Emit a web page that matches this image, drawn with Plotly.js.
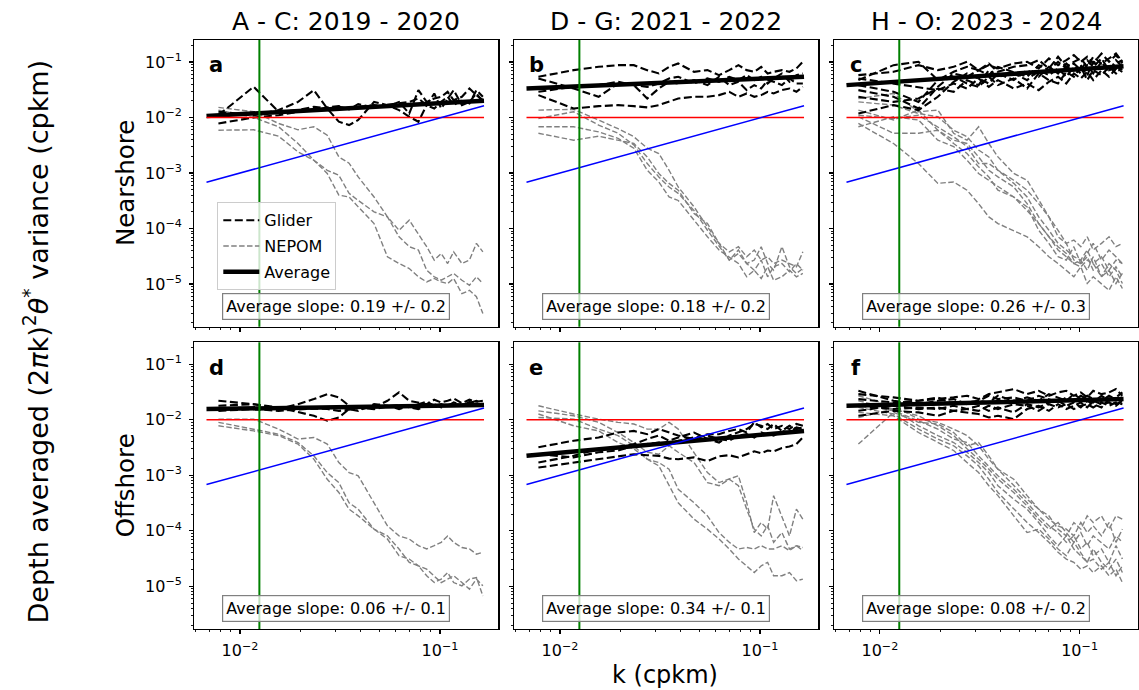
<!DOCTYPE html>
<html>
<head>
<meta charset="utf-8">
<script src="https://cdn.plot.ly/plotly-3.0.1.min.js"></script>
<style>
html,body{margin:0;padding:0;background:#ffffff;}
#chart{width:1139px;height:690px;}
</style>
</head>
<body>
<div id="chart"></div>
<script>
// ---------------- data ----------------
const col_titles = ['A - C: 2019 - 2020', 'D - G: 2021 - 2022', 'H - O: 2023 - 2024'];
const row_titles = ['Nearshore', 'Offshore'];
const panel_letters = ['a', 'b', 'c', 'd', 'e', 'f'];
const slope_labels = ['Average slope: 0.19 +/- 0.2', 'Average slope: 0.18 +/- 0.2', 'Average slope: 0.26 +/- 0.3',
                      'Average slope: 0.06 +/- 0.1', 'Average slope: 0.34 +/- 0.1', 'Average slope: 0.08 +/- 0.2'];
const y_label = 'Depth averaged (2<i>π</i>k)<sup>2</sup><i>θ</i><sup>*</sup> variance (cpkm)';
const x_label = 'k (cpkm)';
const y_tick_vals = [1e-5, 1e-4, 1e-3, 1e-2, 1e-1];
const y_tick_text = ['10<sup>−5</sup>', '10<sup>−4</sup>', '10<sup>−3</sup>', '10<sup>−2</sup>', '10<sup>−1</sup>'];
const x_tick_vals = [0.01, 0.1];
const x_tick_text = ['10<sup>−2</sup>', '10<sup>−1</sup>'];

// wavenumber grid of the spectra (cpkm)
const k = [0.0078, 0.0117, 0.0156, 0.0195, 0.0234, 0.0273, 0.0312, 0.0351, 0.039, 0.0468, 0.0546, 0.0624,
           0.0702, 0.078, 0.0858, 0.0936, 0.1014, 0.1092, 0.117, 0.1287, 0.1404, 0.1521, 0.1638];
// reference lines
const k_ref = [0.0068, 0.166];
const red_level = [0.01, 0.01];
const blue_ref = [0.00068, 0.0163];
const green_k = 0.0125;

// panel a
const a_glider_1 = [0.011, 0.0357, 0.0127, 0.0136, 0.0156, 0.0145, 0.0156, 0.0145, 0.0156, 0.0167, 0.0156, 0.0191, 0.0118, 0.0311, 0.0191, 0.022, 0.0236, 0.029, 0.0205, 0.0236, 0.0333, 0.0253, 0.0205];
const a_glider_2 = [0.0127, 0.011, 0.0136, 0.0191, 0.0311, 0.0145, 0.0084, 0.0073, 0.009, 0.0191, 0.0167, 0.0136, 0.0103, 0.0084, 0.0167, 0.0271, 0.0145, 0.022, 0.0311, 0.0167, 0.0191, 0.0271, 0.0191];
const a_glider_3 = [0.0078, 0.01, 0.011, 0.0127, 0.0136, 0.0152, 0.016, 0.014, 0.0174, 0.0152, 0.0169, 0.0183, 0.0191, 0.022, 0.0167, 0.0145, 0.0191, 0.0236, 0.0167, 0.0205, 0.0179, 0.0311, 0.0236];
const a_nepom_1 = [0.0152, 0.0127, 0.0078, 0.006, 0.0068, 0.0048, 0.00195, 0.0015, 8.5e-4, 3.7e-4, 1.62e-4, 9.3e-5, 1.41e-4, 8.1e-5, 4.7e-5, 2.7e-5, 3.55e-5, 2.34e-5, 3.8e-5, 2.34e-5, 2.7e-5, 5.4e-5, 3.8e-5];
const a_nepom_2 = [0.0136, 0.01, 0.0068, 0.0034, 0.0017, 0.00112, 9.1e-4, 4.3e-4, 3.2e-4, 2.0e-4, 1.62e-4, 7.1e-5, 4.7e-5, 4.1e-5, 1.77e-5, 1.35e-5, 1.17e-5, 1.35e-5, 1.55e-5, 1.17e-5, 9.5e-6, 1.35e-5, 1.02e-5];
const a_nepom_3 = [0.0059, 0.006, 0.0046, 0.0024, 0.0017, 9.8e-4, 4.0e-4, 3.7e-4, 2.45e-4, 1.23e-4, 3.1e-5, 2.34e-5, 1.9e-5, 1.35e-5, 1.09e-5, 1.26e-5, 1.09e-5, 1.02e-5, 1.26e-5, 6.7e-6, 7.7e-6, 5.9e-6, 2.95e-6];
const a_average = [0.0106, 0.0200];

// panel b
const b_glider_1 = [0.0541, 0.0713, 0.0818, 0.0877, 0.0877, 0.0713, 0.0621, 0.0818, 0.094, 0.0665, 0.0713, 0.0579, 0.0713, 0.0877, 0.0713, 0.0665, 0.0818, 0.0621, 0.0665, 0.0713, 0.0665, 0.0764, 0.1007];
const b_glider_2 = [0.0253, 0.0145, 0.016, 0.0167, 0.016, 0.0152, 0.0167, 0.0191, 0.022, 0.0236, 0.0236, 0.0253, 0.029, 0.0236, 0.0271, 0.0236, 0.0253, 0.029, 0.0271, 0.0311, 0.0333, 0.029, 0.0357];
const b_glider_3 = [0.0505, 0.0333, 0.0236, 0.041, 0.0383, 0.022, 0.0333, 0.044, 0.041, 0.0471, 0.0383, 0.0541, 0.0383, 0.044, 0.0311, 0.0383, 0.0333, 0.0471, 0.044, 0.0383, 0.0505, 0.041, 0.041];
const b_glider_4 = [0.029, 0.0357, 0.0383, 0.044, 0.0383, 0.0357, 0.041, 0.0505, 0.0541, 0.041, 0.0505, 0.044, 0.0541, 0.0471, 0.0579, 0.0471, 0.0541, 0.041, 0.0505, 0.0621, 0.044, 0.0579, 0.0621];
const b_nepom_1 = [0.0136, 0.014, 0.009, 0.0063, 0.0045, 0.0028, 0.00224, 0.00112, 5.6e-4, 2.45e-4, 1.07e-4, 5.4e-5, 3.8e-5, 4.7e-5, 3.1e-5, 4.1e-5, 2.7e-5, 3.1e-5, 2.34e-5, 2.7e-5, 2.34e-5, 2.04e-5, 3.8e-5];
const b_nepom_2 = [0.0096, 0.0127, 0.0073, 0.0052, 0.0032, 0.00148, 8.5e-4, 5.6e-4, 4.3e-4, 2.1e-4, 9.3e-5, 4.7e-5, 2.7e-5, 3.55e-5, 2.34e-5, 1.77e-5, 2.7e-5, 1.35e-5, 2.04e-5, 2.34e-5, 1.66e-5, 2.34e-5, 1.77e-5];
const b_nepom_3 = [0.0068, 0.0068, 0.0055, 0.0042, 0.0028, 0.00112, 6.9e-4, 3.7e-4, 3.2e-4, 1.41e-4, 7.1e-5, 4.1e-5, 3.1e-5, 2.34e-5, 1.35e-5, 1.77e-5, 1.26e-5, 2.04e-5, 1.17e-5, 1.35e-5, 1.77e-5, 1.35e-5, 1.55e-5];
const b_nepom_4 = [0.0052, 0.0039, 0.0046, 0.0039, 0.0034, 0.00195, 9.8e-4, 6.5e-4, 4.9e-4, 1.86e-4, 1.23e-4, 5.4e-5, 2.7e-5, 4.1e-5, 2.34e-5, 2.7e-5, 4.7e-5, 2.34e-5, 1.77e-5, 4.7e-5, 2.04e-5, 1.55e-5, 1.9e-5];
const b_average = [0.0333, 0.054];

// panel c
const c_glider_1 = [0.0471, 0.0877, 0.1007, 0.0471, 0.0665, 0.0818, 0.0713, 0.0877, 0.0764, 0.094, 0.1007, 0.0764, 0.1156, 0.0877, 0.108, 0.133, 0.1007, 0.124, 0.094, 0.142, 0.1007, 0.133, 0.094];
const c_glider_2 = [0.0311, 0.0236, 0.0145, 0.0357, 0.0621, 0.0541, 0.0713, 0.0579, 0.0818, 0.0665, 0.0541, 0.0877, 0.0713, 0.1007, 0.0764, 0.094, 0.0713, 0.108, 0.0818, 0.1156, 0.0713, 0.094, 0.108];
const c_glider_3 = [0.0118, 0.0167, 0.0136, 0.0236, 0.044, 0.0621, 0.0505, 0.041, 0.0621, 0.0471, 0.0713, 0.0541, 0.0818, 0.0621, 0.094, 0.0713, 0.0877, 0.0579, 0.1007, 0.0764, 0.0877, 0.0665, 0.0764];
const c_glider_4 = [0.0383, 0.029, 0.0191, 0.0471, 0.0541, 0.041, 0.0357, 0.0541, 0.0383, 0.0505, 0.0333, 0.0621, 0.0471, 0.041, 0.0665, 0.0541, 0.0818, 0.0471, 0.0713, 0.0579, 0.0818, 0.0621, 0.0877];
const c_glider_5 = [0.0579, 0.0665, 0.0877, 0.0713, 0.0818, 0.1007, 0.0713, 0.094, 0.0665, 0.0818, 0.0877, 0.108, 0.0764, 0.124, 0.0818, 0.1007, 0.1156, 0.0818, 0.124, 0.094, 0.1156, 0.142, 0.1007];
const c_glider_6 = [0.0505, 0.041, 0.0357, 0.0311, 0.041, 0.0333, 0.0505, 0.0357, 0.0471, 0.0333, 0.041, 0.0311, 0.044, 0.0541, 0.041, 0.0621, 0.0505, 0.0665, 0.0471, 0.0713, 0.0541, 0.0764, 0.0665];
const c_glider_7 = [0.0236, 0.0191, 0.022, 0.0333, 0.029, 0.0471, 0.0383, 0.0713, 0.0541, 0.0621, 0.0471, 0.0713, 0.0579, 0.0764, 0.0541, 0.0818, 0.0621, 0.0877, 0.0621, 0.1007, 0.0665, 0.108, 0.0818];
const c_nepom_1 = [0.022, 0.0271, 0.0127, 0.0136, 0.0052, 0.0039, 0.0068, 0.0034, 0.00195, 9.8e-4, 7.4e-4, 3.2e-4, 1.62e-4, 9.3e-5, 5.4e-5, 6.2e-5, 4.7e-5, 7.1e-5, 4.1e-5, 5.4e-5, 7.1e-5, 4.7e-5, 5.4e-5];
const c_nepom_2 = [0.0191, 0.0167, 0.0118, 0.0103, 0.0059, 0.0045, 0.0026, 0.00195, 0.00112, 6.5e-4, 3.7e-4, 1.62e-4, 9.3e-5, 5.4e-5, 4.1e-5, 3.1e-5, 2.7e-5, 4.1e-5, 2.34e-5, 3.1e-5, 1.77e-5, 2.7e-5, 2.34e-5];
const c_nepom_3 = [0.011, 0.0096, 0.011, 0.0068, 0.0045, 0.003, 0.00148, 0.00148, 0.00112, 7.4e-4, 4.9e-4, 2.8e-4, 1.62e-4, 7.1e-5, 5.4e-5, 2.7e-5, 2.34e-5, 3.1e-5, 1.77e-5, 2.34e-5, 1.35e-5, 2.04e-5, 1.35e-5];
const c_nepom_4 = [0.0103, 0.0052, 0.0052, 0.0059, 0.0039, 0.0034, 0.00195, 0.00112, 8.5e-4, 5.6e-4, 2.8e-4, 1.23e-4, 7.1e-5, 4.7e-5, 3.55e-5, 2.34e-5, 2.7e-5, 1.77e-5, 3.1e-5, 1.35e-5, 2.34e-5, 1.77e-5, 1.02e-5];
const c_nepom_5 = [0.0078, 0.0034, 0.00148, 6.5e-4, 6.9e-4, 4.9e-4, 2.8e-4, 1.62e-4, 1.23e-4, 9.3e-5, 7.1e-5, 4.7e-5, 3.1e-5, 2.34e-5, 1.77e-5, 1.35e-5, 2.04e-5, 1.02e-5, 1.35e-5, 1.02e-5, 7.7e-6, 1.35e-5, 8.3e-6];
const c_nepom_6 = [0.0136, 0.009, 0.0136, 0.0059, 0.0034, 0.00224, 0.00129, 8.5e-4, 4.9e-4, 3.7e-4, 2.1e-4, 1.23e-4, 7.1e-5, 4.1e-5, 3.1e-5, 2.34e-5, 2.04e-5, 2.7e-5, 2.34e-5, 1.35e-5, 1.77e-5, 1.02e-5, 1.55e-5];
const c_nepom_7 = [0.0068, 0.0103, 0.009, 0.0039, 0.003, 0.0017, 9.8e-4, 7.4e-4, 5.6e-4, 3.7e-4, 2.45e-4, 9.3e-5, 5.4e-5, 3.1e-5, 2.7e-5, 4.7e-5, 2.34e-5, 3.55e-5, 5.4e-5, 2.7e-5, 4.1e-5, 3.1e-5, 2.34e-5];
const c_average = [0.0383, 0.084];

// panel d
const d_glider_1 = [0.0179, 0.0191, 0.0156, 0.0191, 0.0236, 0.029, 0.0253, 0.0179, 0.0156, 0.0167, 0.022, 0.0311, 0.022, 0.0205, 0.0191, 0.023, 0.0205, 0.022, 0.0242, 0.0199, 0.023, 0.0211, 0.022];
const d_glider_2 = [0.022, 0.0191, 0.0167, 0.0136, 0.0118, 0.0096, 0.011, 0.0156, 0.0145, 0.0191, 0.0179, 0.0156, 0.0179, 0.0191, 0.0211, 0.0179, 0.0191, 0.0174, 0.0205, 0.0184, 0.0199, 0.022, 0.0191];
const d_glider_3 = [0.0145, 0.0156, 0.0145, 0.0152, 0.016, 0.0156, 0.0145, 0.0152, 0.0167, 0.0156, 0.0174, 0.0184, 0.0167, 0.0156, 0.0179, 0.0191, 0.0167, 0.0184, 0.0199, 0.0179, 0.0211, 0.0191, 0.0179];
const d_nepom_1 = [0.0103, 0.0103, 0.0068, 0.0045, 0.0048, 0.00365, 0.0017, 0.00112, 9.8e-4, 3.2e-4, 1.23e-4, 8.1e-5, 7.1e-5, 5.4e-5, 4.7e-5, 5.4e-5, 6.2e-5, 8.1e-5, 6.2e-5, 5.0e-5, 4.7e-5, 3.8e-5, 4.1e-5];
const d_nepom_2 = [0.009, 0.0068, 0.0055, 0.0039, 0.00224, 0.00112, 7.4e-4, 3.2e-4, 2.45e-4, 1.07e-4, 8.1e-5, 4.7e-5, 2.7e-5, 2.34e-5, 1.55e-5, 1.17e-5, 1.35e-5, 1.77e-5, 1.17e-5, 1.02e-5, 1.35e-5, 1.44e-5, 6.7e-6];
const d_nepom_3 = [0.0078, 0.0063, 0.0052, 0.00365, 0.00195, 8.5e-4, 4.9e-4, 2.45e-4, 1.86e-4, 1.07e-4, 7.1e-5, 3.55e-5, 3.1e-5, 2.34e-5, 2.04e-5, 1.55e-5, 1.17e-5, 1.35e-5, 1.55e-5, 1.17e-5, 8.9e-6, 1.35e-5, 1.02e-5];
const d_average = [0.0156, 0.0184];

// panel e
const e_glider_1 = [0.0032, 0.0042, 0.0048, 0.0059, 0.0063, 0.0055, 0.0068, 0.0059, 0.0052, 0.0045, 0.0055, 0.0055, 0.0063, 0.0068, 0.0059, 0.009, 0.0073, 0.0084, 0.0068, 0.0078, 0.0068, 0.0084, 0.0078];
const e_glider_2 = [0.00138, 0.0017, 0.002, 0.00224, 0.0024, 0.0023, 0.00224, 0.002, 0.00195, 0.0021, 0.0018, 0.0022, 0.0023, 0.0021, 0.0024, 0.0027, 0.0025, 0.0028, 0.0027, 0.0031, 0.0033, 0.00365, 0.0048];
const e_glider_3 = [0.0017, 0.00224, 0.003, 0.0032, 0.00365, 0.0045, 0.0052, 0.0042, 0.0048, 0.0059, 0.0045, 0.0039, 0.0052, 0.0059, 0.0068, 0.0084, 0.0078, 0.0068, 0.0084, 0.0063, 0.0078, 0.0068, 0.0073];
const e_glider_4 = [0.0024, 0.0021, 0.0026, 0.0028, 0.0034, 0.00365, 0.0039, 0.00365, 0.0042, 0.0048, 0.0052, 0.0045, 0.0042, 0.0052, 0.0055, 0.0048, 0.0059, 0.0055, 0.0052, 0.0063, 0.0059, 0.0073, 0.0068];
const e_nepom_1 = [0.0179, 0.0127, 0.0103, 0.009, 0.0084, 0.0068, 0.0068, 0.009, 0.0068, 0.0026, 0.00112, 7.4e-4, 8.5e-4, 9.8e-4, 3.2e-4, 9.3e-5, 1.41e-4, 1.07e-4, 4.3e-4, 1.86e-4, 8.1e-5, 2.45e-4, 1.62e-4];
const e_nepom_2 = [0.0145, 0.0118, 0.009, 0.0059, 0.0039, 0.0026, 0.0024, 0.0034, 0.0026, 0.0017, 7.4e-4, 6.5e-4, 8.5e-4, 6.5e-4, 2.45e-4, 1.07e-4, 8.1e-5, 1.23e-4, 6.2e-5, 9.3e-5, 4.7e-5, 5.4e-5, 5.0e-5];
const e_nepom_3 = [0.011, 0.0103, 0.0068, 0.0052, 0.0034, 0.00195, 0.0017, 0.00129, 5.6e-4, 3.2e-4, 1.86e-4, 9.3e-5, 6.2e-5, 4.7e-5, 5.0e-5, 4.7e-5, 5.4e-5, 4.7e-5, 4.7e-5, 5.4e-5, 4.4e-5, 5.4e-5, 4.4e-5];
const e_nepom_4 = [0.0127, 0.0078, 0.0063, 0.0039, 0.003, 0.00195, 0.00148, 6.5e-4, 3.2e-4, 1.62e-4, 1.07e-4, 7.1e-5, 4.7e-5, 3.1e-5, 2.34e-5, 1.77e-5, 2.34e-5, 2.7e-5, 1.55e-5, 1.55e-5, 1.77e-5, 1.26e-5, 1.35e-5];
const e_average = [0.00224, 0.0063];

// panel f
const f_glider_1 = [0.029, 0.0253, 0.022, 0.0236, 0.0253, 0.0271, 0.0236, 0.029, 0.0311, 0.0357, 0.029, 0.0333, 0.0271, 0.0311, 0.0333, 0.0271, 0.0311, 0.0253, 0.0333, 0.029, 0.0311, 0.0357, 0.0271];
const f_glider_2 = [0.0236, 0.0205, 0.022, 0.0253, 0.0191, 0.0205, 0.022, 0.0271, 0.0236, 0.0253, 0.022, 0.0271, 0.0236, 0.0205, 0.0253, 0.022, 0.0271, 0.0236, 0.0205, 0.0271, 0.022, 0.0253, 0.0311];
const f_glider_3 = [0.0118, 0.0145, 0.0136, 0.0118, 0.0145, 0.0136, 0.0127, 0.011, 0.0118, 0.0103, 0.0156, 0.0179, 0.0145, 0.0191, 0.0156, 0.0179, 0.0205, 0.0167, 0.022, 0.0191, 0.0205, 0.0179, 0.022];
const f_glider_4 = [0.0179, 0.0156, 0.0167, 0.0156, 0.0179, 0.0156, 0.0145, 0.0179, 0.0156, 0.0191, 0.0179, 0.0145, 0.0191, 0.0167, 0.0191, 0.0156, 0.0179, 0.0191, 0.0167, 0.0205, 0.0179, 0.0205, 0.0191];
const f_glider_5 = [0.0333, 0.022, 0.0191, 0.022, 0.0236, 0.0191, 0.022, 0.0205, 0.0271, 0.022, 0.0253, 0.022, 0.029, 0.0253, 0.022, 0.029, 0.0236, 0.0271, 0.0236, 0.022, 0.0271, 0.0236, 0.0253];
const f_glider_6 = [0.0145, 0.0179, 0.0156, 0.0167, 0.0145, 0.0156, 0.0179, 0.0145, 0.0167, 0.0136, 0.0191, 0.0167, 0.0205, 0.022, 0.0179, 0.0205, 0.0167, 0.022, 0.0191, 0.0167, 0.0236, 0.0191, 0.022];
const f_nepom_1 = [0.00365, 0.0136, 0.009, 0.0084, 0.0059, 0.0034, 0.0039, 0.00224, 0.00129, 8.5e-4, 4.3e-4, 2.45e-4, 1.86e-4, 1.07e-4, 8.1e-5, 1.41e-4, 1.07e-4, 1.86e-4, 1.41e-4, 1.86e-4, 1.07e-4, 1.86e-4, 1.62e-4];
const f_nepom_2 = [0.0271, 0.0179, 0.0103, 0.009, 0.0068, 0.0052, 0.0034, 0.00195, 0.00129, 6.5e-4, 3.7e-4, 2.45e-4, 1.62e-4, 1.23e-4, 1.07e-4, 8.1e-5, 1.41e-4, 9.3e-5, 1.23e-4, 8.1e-5, 1.41e-4, 6.2e-5, 1.07e-4];
const f_nepom_3 = [0.0191, 0.0145, 0.0096, 0.0068, 0.0045, 0.0039, 0.00224, 0.00148, 9.8e-4, 5.6e-4, 3.2e-4, 1.86e-4, 1.23e-4, 9.3e-5, 6.2e-5, 8.1e-5, 4.7e-5, 6.2e-5, 3.55e-5, 4.7e-5, 2.7e-5, 5.4e-5, 3.1e-5];
const f_nepom_4 = [0.011, 0.0156, 0.0078, 0.0052, 0.0039, 0.0026, 0.0017, 0.00112, 6.5e-4, 3.7e-4, 2.45e-4, 1.41e-4, 8.1e-5, 5.4e-5, 8.1e-5, 4.7e-5, 3.55e-5, 2.7e-5, 4.7e-5, 2.7e-5, 2.04e-5, 3.1e-5, 1.77e-5];
const f_nepom_5 = [0.0167, 0.0127, 0.0068, 0.0045, 0.0034, 0.00224, 0.00148, 8.5e-4, 4.9e-4, 2.45e-4, 1.41e-4, 9.3e-5, 6.2e-5, 4.1e-5, 3.1e-5, 2.7e-5, 2.04e-5, 2.34e-5, 1.77e-5, 2.34e-5, 1.55e-5, 2.04e-5, 1.17e-5];
const f_nepom_6 = [0.0136, 0.0118, 0.0059, 0.0039, 0.0028, 0.0017, 0.00112, 6.5e-4, 4.3e-4, 1.86e-4, 9.3e-5, 1.07e-4, 7.1e-5, 4.7e-5, 3.55e-5, 6.2e-5, 4.1e-5, 2.7e-5, 3.1e-5, 2.04e-5, 2.7e-5, 1.55e-5, 2.34e-5];
const f_nepom_7 = [0.022, 0.0156, 0.0118, 0.0078, 0.0052, 0.003, 0.00195, 0.00129, 8.5e-4, 4.9e-4, 2.8e-4, 1.62e-4, 1.07e-4, 1.41e-4, 9.3e-5, 6.2e-5, 9.3e-5, 5.4e-5, 8.1e-5, 6.2e-5, 4.7e-5, 8.1e-5, 6.2e-5];
const f_average = [0.0179, 0.0236];

// ---------------- figure ----------------
const FONT = 'DejaVu Sans, Verdana, sans-serif';
const W = 1139, H = 690;
const xPx = [[194.3, 498.3], [514.3, 818.3], [834.3, 1137.8]];
const yPx = [[40, 326.7], [342.3, 629]];
const xRange = [-2.2285, -0.7085];
const yRange = [-5.769, -0.604];

const panelData = [
  {g: [a_glider_1, a_glider_2, a_glider_3], n: [a_nepom_1, a_nepom_2, a_nepom_3], avg: a_average},
  {g: [b_glider_1, b_glider_2, b_glider_3, b_glider_4], n: [b_nepom_1, b_nepom_2, b_nepom_3, b_nepom_4], avg: b_average},
  {g: [c_glider_1, c_glider_2, c_glider_3, c_glider_4, c_glider_5, c_glider_6, c_glider_7],
   n: [c_nepom_1, c_nepom_2, c_nepom_3, c_nepom_4, c_nepom_5, c_nepom_6, c_nepom_7], avg: c_average},
  {g: [d_glider_1, d_glider_2, d_glider_3], n: [d_nepom_1, d_nepom_2, d_nepom_3], avg: d_average},
  {g: [e_glider_1, e_glider_2, e_glider_3, e_glider_4], n: [e_nepom_1, e_nepom_2, e_nepom_3, e_nepom_4], avg: e_average},
  {g: [f_glider_1, f_glider_2, f_glider_3, f_glider_4, f_glider_5, f_glider_6],
   n: [f_nepom_1, f_nepom_2, f_nepom_3, f_nepom_4, f_nepom_5, f_nepom_6, f_nepom_7], avg: f_average}
];

// minor tick positions (2..9 x decade)
const yMinor = [], xMinor = [];
for (let e = -6; e <= -1; e++) for (let m = 2; m <= 9; m++) yMinor.push(m * Math.pow(10, e));
for (let e = -3; e <= -1; e++) for (let m = 2; m <= 9; m++) xMinor.push(m * Math.pow(10, e));

const traces = [];
const layout = {
  width: W, height: H,
  margin: {l: 0, r: 0, t: 0, b: 0},
  paper_bgcolor: '#ffffff', plot_bgcolor: '#ffffff',
  font: {family: FONT, color: '#000000', size: 16},
  showlegend: true,
  legend: {
    x: 217.3 / W, y: 1 - 202.3 / H, xanchor: 'left', yanchor: 'top',
    bgcolor: 'rgba(255,255,255,0.8)', bordercolor: '#cccccc', borderwidth: 1,
    font: {family: FONT, size: 16, color: '#000000'}, itemwidth: 36, tracegroupgap: 2,
    traceorder: 'grouped'
  },
  annotations: [], shapes: []
};

panelData.forEach((p, i) => {
  const row = Math.floor(i / 3), col = i % 3;
  const sfx = i === 0 ? '' : String(i + 1);
  const xa = 'x' + sfx, ya = 'y' + sfx;
  // NEPOM spectra
  p.n.forEach((v, j) => traces.push({
    type: 'scatter', mode: 'lines', x: k, y: v, xaxis: xa, yaxis: ya,
    name: 'NEPOM', legendgroup: 'nepom', showlegend: i === 0 && j === 0, legendrank: 2, hoverinfo: 'skip',
    line: {color: '#808080', width: 1.4, dash: '5.5px,2.4px'}
  }));
  // glider spectra
  p.g.forEach((v, j) => traces.push({
    type: 'scatter', mode: 'lines', x: k, y: v, xaxis: xa, yaxis: ya,
    name: 'Glider', legendgroup: 'glider', showlegend: i === 0 && j === 0, legendrank: 1, hoverinfo: 'skip',
    line: {color: '#000000', width: 2.1, dash: '8px,3.5px'}
  }));
  // average fit
  traces.push({type: 'scatter', mode: 'lines', x: k_ref, y: p.avg, xaxis: xa, yaxis: ya,
    name: 'Average', legendgroup: 'average', showlegend: i === 0, legendrank: 3, hoverinfo: 'skip',
    line: {color: '#000000', width: 4.5}});
  // reference lines
  traces.push({type: 'scatter', mode: 'lines', x: k_ref, y: red_level, xaxis: xa, yaxis: ya,
    showlegend: false, hoverinfo: 'skip', line: {color: '#ff0000', width: 1.5}});
  traces.push({type: 'scatter', mode: 'lines', x: k_ref, y: blue_ref, xaxis: xa, yaxis: ya,
    showlegend: false, hoverinfo: 'skip', line: {color: '#0000ff', width: 1.5}});

  const axBase = {
    type: 'log', showgrid: false, zeroline: false,
    showline: true, mirror: true, linecolor: '#000000', linewidth: 1.2,
    ticks: 'outside', ticklen: 4, tickwidth: 1.1, tickcolor: '#000000',
    tickfont: {family: FONT, size: 16, color: '#000000'}, tickmode: 'array',
    fixedrange: true
  };
  layout['xaxis' + sfx] = Object.assign({}, axBase, {
    domain: [xPx[col][0] / W, xPx[col][1] / W], range: xRange, anchor: ya,
    tickvals: x_tick_vals, ticktext: x_tick_text, showticklabels: row === 1,
    ticklabelstandoff: 3,
    minor: {tickmode: 'array', tickvals: xMinor, ticks: 'outside', ticklen: 2.2, tickwidth: 0.9, tickcolor: '#000000'}
  });
  layout['yaxis' + sfx] = Object.assign({}, axBase, {
    domain: [1 - yPx[row][1] / H, 1 - yPx[row][0] / H], range: yRange, anchor: xa,
    tickvals: y_tick_vals, ticktext: y_tick_text, showticklabels: col === 0,
    ticklabelstandoff: 4,
    minor: {tickmode: 'array', tickvals: yMinor, ticks: 'outside', ticklen: 2.2, tickwidth: 0.9, tickcolor: '#000000'}
  });

  // green vertical line
  layout.shapes.push({type: 'line', xref: xa, yref: ya + ' domain', x0: green_k, x1: green_k, y0: 0, y1: 1,
    line: {color: '#008000', width: 2}, layer: 'above'});

  // panel letter
  layout.annotations.push({xref: xa + ' domain', yref: ya + ' domain', x: 0.073, y: 0.912,
    xanchor: 'center', yanchor: 'middle', showarrow: false,
    text: '<b>' + panel_letters[i] + '</b>', font: {family: FONT, size: 21, color: '#000000'}});
  // slope box
  layout.annotations.push({xref: xa + ' domain', yref: ya + ' domain', x: 0.467, y: 0.07,
    xanchor: 'center', yanchor: 'middle', showarrow: false,
    text: slope_labels[i], font: {family: FONT, size: 16, color: '#000000'},
    bgcolor: 'rgba(255,255,255,0.75)', bordercolor: '#808080', borderwidth: 1.2, borderpad: 3});
});

// column titles
col_titles.forEach((t, c) => layout.annotations.push({
  xref: 'paper', yref: 'paper', x: (xPx[c][0] + xPx[c][1]) / 2 / W, y: 1 - 21.5 / H,
  xanchor: 'center', yanchor: 'middle', showarrow: false, text: t,
  font: {family: FONT, size: 25, color: '#000000'}}));
// row labels
row_titles.forEach((t, r) => layout.annotations.push({
  xref: 'paper', yref: 'paper', x: 125.7 / W, y: 1 - (yPx[r][0] + yPx[r][1]) / 2 / H,
  xanchor: 'center', yanchor: 'middle', showarrow: false, text: t, textangle: -90,
  font: {family: FONT, size: 24.5, color: '#000000'}}));
// overall labels
layout.annotations.push({xref: 'paper', yref: 'paper', x: 36 / W, y: 1 - 341.5 / H,
  xanchor: 'center', yanchor: 'middle', showarrow: false, text: y_label, textangle: -90,
  font: {family: FONT, size: 27, color: '#000000'}});
layout.annotations.push({xref: 'paper', yref: 'paper', x: 665.3 / W, y: 1 - 675 / H,
  xanchor: 'center', yanchor: 'middle', showarrow: false, text: x_label,
  font: {family: FONT, size: 24, color: '#000000'}});

Plotly.newPlot('chart', traces, layout, {staticPlot: true, displayModeBar: false});
</script>
</body>
</html>
